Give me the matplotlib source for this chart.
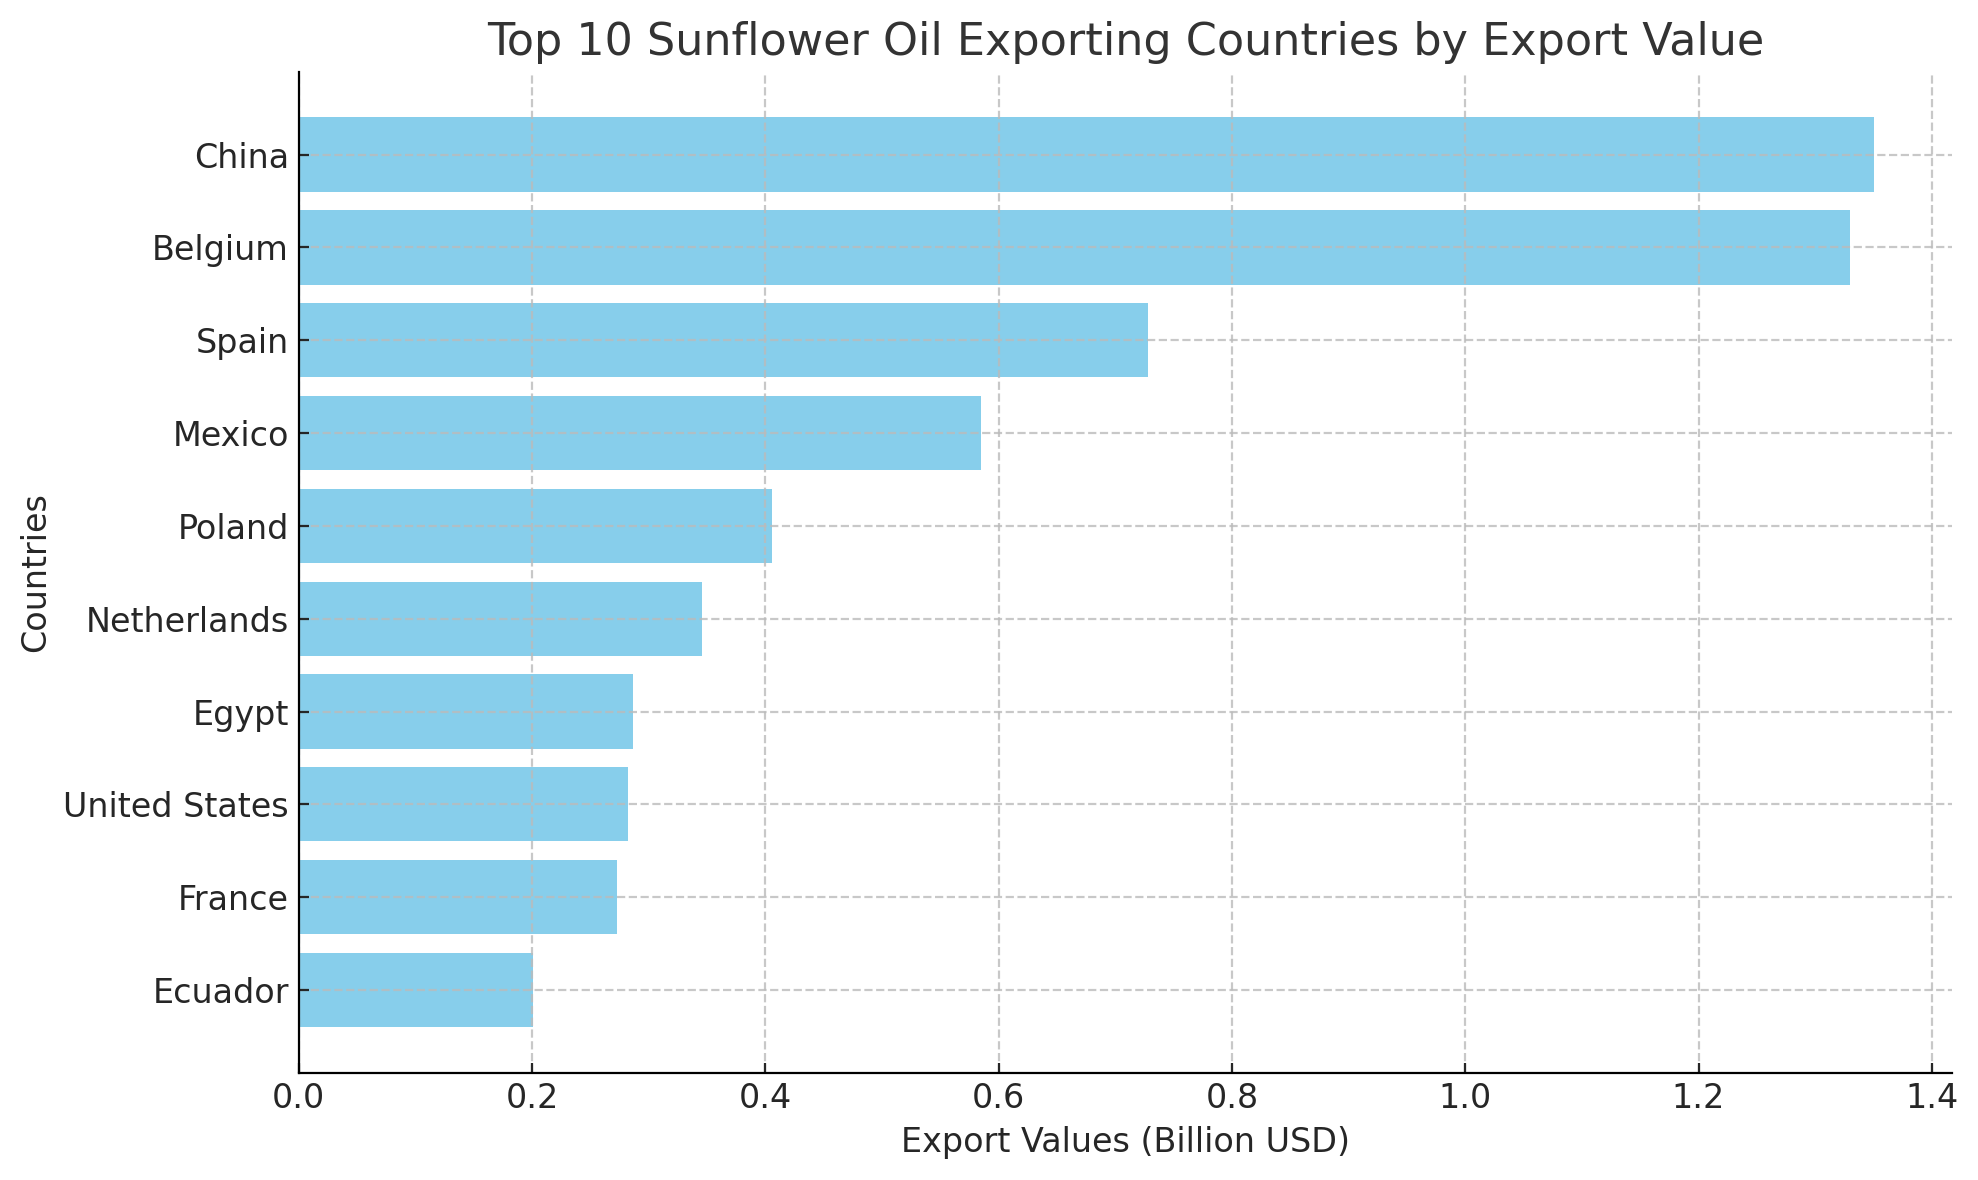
import matplotlib
matplotlib.use("Agg")
import matplotlib.pyplot as plt

countries = ["China", "Belgium", "Spain", "Mexico", "Poland", "Netherlands",
             "Egypt", "United States", "France", "Ecuador"]
export_values = [1.350, 1.330, 0.728, 0.585, 0.406, 0.346, 0.287, 0.282, 0.273, 0.201]

plt.rcParams["text.color"] = "#262626"
plt.rcParams["axes.labelcolor"] = "#262626"
plt.rcParams["xtick.color"] = "#262626"
plt.rcParams["ytick.color"] = "#262626"

fig, ax = plt.subplots(figsize=(9.89, 5.9), dpi=200)
fig.subplots_adjust(left=0.151, right=0.987, top=0.939, bottom=0.091)

ax.barh(countries[::-1], export_values[::-1], color="skyblue")
ax.set_title("Top 10 Sunflower Oil Exporting Countries by Export Value", fontsize=16, color="#333333")
ax.set_xlabel("Export Values (Billion USD)", fontsize=12)
ax.set_ylabel("Countries", fontsize=12)
ax.tick_params(direction="in", labelsize=12)
ax.grid(True, linestyle="--", color="#bbbbbb", alpha=0.8, linewidth=0.8)
ax.set_axisbelow(False)
ax.spines["top"].set_visible(False)
ax.spines["right"].set_visible(False)
for side in ("left", "bottom"):
    ax.spines[side].set_zorder(5)

fig.savefig("out.png", dpi=200)
